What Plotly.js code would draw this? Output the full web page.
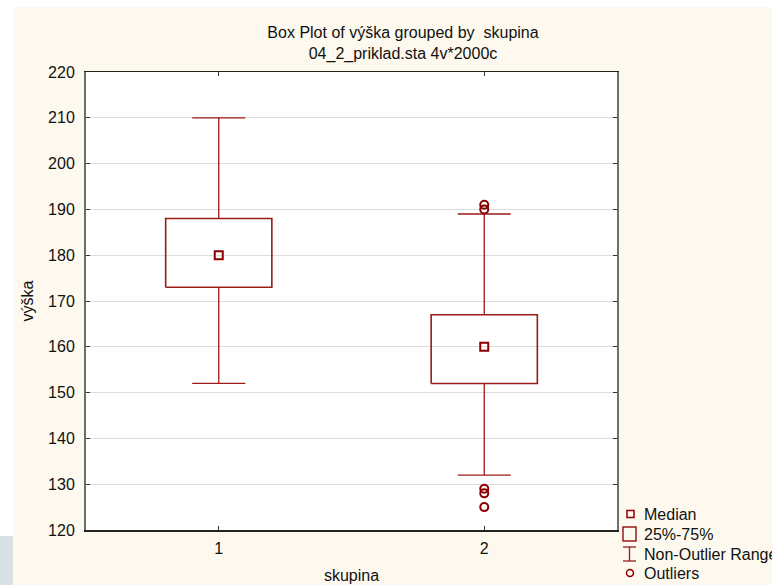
<!DOCTYPE html>
<html>
<head>
<meta charset="utf-8">
<script src="https://cdn.plot.ly/plotly-3.0.1.min.js"></script>
<style>
  html, body { margin: 0; padding: 0; background: #ffffff; overflow: hidden; }
  #chart { width: 772px; height: 585px; }
</style>
</head>
<body>
<div id="chart"></div>
<script>
// ---- data ----
const categories = [1, 2];
const categoryLabels = ['1', '2'];
const q1 = [173, 152];
const median = [180, 160];
const q3 = [188, 167];
const lowerWhisker = [152, 132];
const upperWhisker = [210, 189];
const outliers = [[], [191, 190, 129, 128, 125]];
const legendLabels = ['Median', '25%-75%', 'Non-Outlier Range', 'Outliers'];
const yTicks = [120, 130, 140, 150, 160, 170, 180, 190, 200, 210, 220];

// ---- style ----
const RED = '#9a1a1a';
const DARK = '#8b0000';
const FONT = 'Liberation Sans, Arial, sans-serif';
const W = 772, H = 585;
const M = { l: 86, r: 155, t: 72, b: 55 };
const boxHalf = 0.2, capHalf = 0.1;

const traces = [];
categories.forEach((c, i) => {
  traces.push({
    type: 'scatter', mode: 'lines', hoverinfo: 'skip', showlegend: false,
    x: [c - boxHalf, c + boxHalf, c + boxHalf, c - boxHalf, c - boxHalf],
    y: [q1[i], q1[i], q3[i], q3[i], q1[i]],
    line: { color: RED, width: 1.6 }
  });
  traces.push({
    type: 'scatter', mode: 'lines', hoverinfo: 'skip', showlegend: false,
    x: [c, c, null, c - capHalf, c + capHalf, null, c, c, null, c - capHalf, c + capHalf],
    y: [q3[i], upperWhisker[i], null, upperWhisker[i], upperWhisker[i], null,
        q1[i], lowerWhisker[i], null, lowerWhisker[i], lowerWhisker[i]],
    line: { color: RED, width: 1.3 }
  });
  traces.push({
    type: 'scatter', mode: 'markers', hoverinfo: 'skip', showlegend: false,
    x: [c], y: [median[i]],
    marker: { symbol: 'square-open', size: 8, color: DARK, line: { color: DARK, width: 2 } }
  });
  if (outliers[i].length) {
    traces.push({
      type: 'scatter', mode: 'markers', hoverinfo: 'skip', showlegend: false,
      x: outliers[i].map(() => c), y: outliers[i],
      marker: { symbol: 'circle-open', size: 8, color: DARK, line: { color: DARK, width: 2 } }
    });
  }
});

// pixel -> paper helpers (for background and legend decoration)
const PW = W - M.l - M.r, PH = H - M.t - M.b;
const xp = px => (px - M.l) / PW;
const yp = py => (H - M.b - py) / PH;

const shapes = [
  { type: 'rect', xref: 'paper', yref: 'paper', x0: xp(0), x1: xp(13), y0: yp(536), y1: yp(0), fillcolor: '#ffffff', line: { width: 0 }, layer: 'below' },
  { type: 'rect', xref: 'paper', yref: 'paper', x0: xp(0), x1: xp(13), y0: yp(585), y1: yp(536), fillcolor: '#d7e0e2', line: { width: 0 }, layer: 'below' },
  { type: 'rect', xref: 'paper', yref: 'paper', x0: xp(0), x1: xp(772), y0: yp(7), y1: yp(0), fillcolor: '#ffffff', line: { width: 0 }, layer: 'below' },
  // legend icons
  { type: 'rect', xref: 'paper', yref: 'paper', x0: xp(627), x1: xp(634), y0: yp(517.5), y1: yp(510.5), line: { color: DARK, width: 1.5 } },
  { type: 'rect', xref: 'paper', yref: 'paper', x0: xp(623), x1: xp(636), y0: yp(541), y1: yp(527), line: { color: RED, width: 1.5 } },
  { type: 'line', xref: 'paper', yref: 'paper', x0: xp(623), x1: xp(636), y0: yp(547), y1: yp(547), line: { color: RED, width: 1.3 } },
  { type: 'line', xref: 'paper', yref: 'paper', x0: xp(623), x1: xp(636), y0: yp(561), y1: yp(561), line: { color: RED, width: 1.3 } },
  { type: 'line', xref: 'paper', yref: 'paper', x0: xp(629.5), x1: xp(629.5), y0: yp(547), y1: yp(561), line: { color: RED, width: 1.3 } },
  { type: 'circle', xref: 'paper', yref: 'paper', x0: xp(626.5), x1: xp(633.5), y0: yp(576.5), y1: yp(569.5), line: { color: DARK, width: 1.5 } }
];

const legendY = [514, 534, 554, 573];
const annotations = legendLabels.map((t, k) => ({
  text: t, xref: 'paper', yref: 'paper', x: xp(642), y: yp(legendY[k]),
  xanchor: 'left', yanchor: 'middle', showarrow: false,
  font: { family: FONT, size: 16, color: '#111' }
}));

const layout = {
  width: W, height: H,
  margin: M,
  paper_bgcolor: '#fdf9ee',
  plot_bgcolor: '#ffffff',
  showlegend: false,
  font: { family: FONT, size: 16, color: '#111' },
  title: {
    text: 'Box Plot of výška grouped by\u00a0 skupina<br>04_2_priklad.sta 4v*2000c',
    x: 403 / W, xref: 'container', xanchor: 'center',
    y: 1 - 38 / H, yref: 'container', yanchor: 'top',
    font: { family: FONT, size: 16, color: '#111' }
  },
  xaxis: {
    range: [0.5, 2.5], tickvals: categories, ticktext: categoryLabels,
    showgrid: false, zeroline: false,
    ticks: 'inside', ticklen: 4, tickcolor: '#333', tickwidth: 1,
    showline: true, linecolor: '#222', linewidth: 1.5, mirror: 'allticks',
    ticklabelstandoff: 3,
    title: { text: 'skupina', standoff: 14, font: { family: FONT, size: 16, color: '#111' } },
    fixedrange: true
  },
  yaxis: {
    range: [120, 220], tickvals: yTicks,
    showgrid: true, gridcolor: '#dddddd', gridwidth: 1, zeroline: false,
    ticks: 'inside', ticklen: 4, tickcolor: '#333', tickwidth: 1,
    showline: true, linecolor: '#6e6e6e', linewidth: 2, mirror: 'allticks',
    ticklabelstandoff: 6,
    title: { text: 'výška', standoff: 10, font: { family: FONT, size: 16, color: '#111' } },
    fixedrange: true
  },
  shapes: shapes,
  annotations: annotations
};

Plotly.newPlot('chart', traces, layout, { displayModeBar: false, staticPlot: true });
</script>
</body>
</html>
